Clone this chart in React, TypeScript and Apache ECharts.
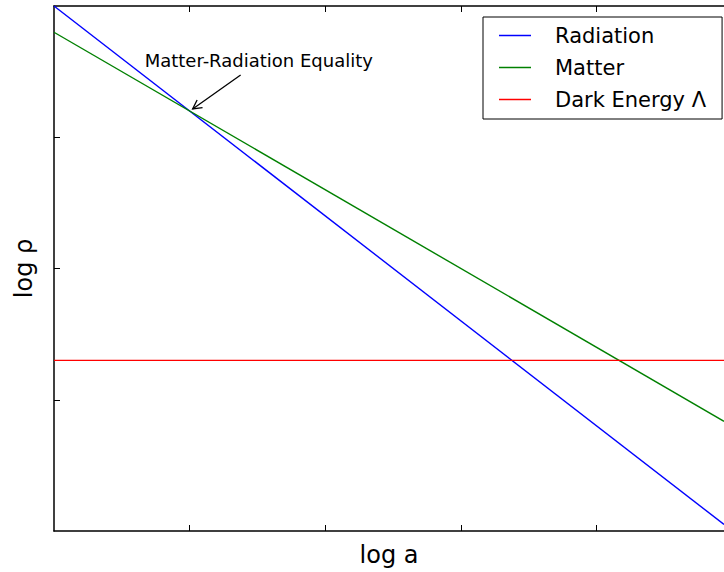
import React, { useEffect, useRef } from "react";
import * as echarts from "echarts";

// Data (log a on x, log rho on y)
const logA = [0, 4.94];
const radiation = [4.0, 0.05];
const matter = [3.8, 0.836];
const darkEnergy = [1.3, 1.3];
const seriesNames = ["Radiation", "Matter", "Dark Energy \u039b"];
const seriesColors = ["#0000ff", "#008000", "#ff0000"];
const xTicks = [1, 2, 3, 4];
const yTicks = [1, 2, 3];
const equality = [1, 3.2];
const equalityLabel = "Matter-Radiation Equality";

const FONT = '"DejaVu Sans", sans-serif';

export default function App() {
  const ref = useRef<HTMLDivElement>(null);
  useEffect(() => {
    if (!ref.current) return;
    const chart = echarts.init(ref.current, null, { renderer: "svg" });
    const toPairs = (ys: number[]) => logA.map((x, i) => [x, ys[i]]);
    const axisLine = { show: true, lineStyle: { color: "#000", width: 1.5 } };
    const xCommon = {
      type: "value" as const,
      min: 0,
      max: logA[1],
      axisLine,
      axisTick: { show: true, inside: true, length: 6, customValues: xTicks, lineStyle: { color: "#000", width: 1 } },
      axisLabel: { show: false },
      splitLine: { show: false },
    };
    chart.setOption({
      animation: false,
      backgroundColor: "#fff",
      grid: { left: 54, right: 0, top: 6, bottom: 40 },
      xAxis: [
        {
          ...xCommon,
          position: "bottom",
          name: "log a",
          nameLocation: "middle",
          nameGap: 12,
          nameTextStyle: { fontFamily: FONT, fontSize: 24, color: "#000", verticalAlign: "top" },
        },
        { ...xCommon, position: "top" },
      ],
      yAxis: [
        {
          type: "value",
          min: 0,
          max: 4,
          interval: 1,
          position: "left",
          axisLine,
          axisTick: { show: true, inside: true, length: 6, customValues: yTicks, lineStyle: { color: "#000", width: 1 } },
          axisLabel: { show: false },
          splitLine: { show: false },
          name: "log \u03c1",
          nameLocation: "middle",
          nameGap: 18,
          nameTextStyle: { fontFamily: FONT, fontSize: 24, color: "#000" },
        },
      ],
      legend: {
        orient: "vertical",
        left: 483,
        top: 17,
        selectedMode: false,
        backgroundColor: "#fff",
        borderColor: "#000",
        borderWidth: 1,
        borderRadius: 0,
        padding: [8, 16, 9, 16],
        itemWidth: 32,
        itemHeight: 1.5,
        itemGap: 11,
        icon: "rect",
        textStyle: { fontFamily: FONT, fontSize: 21, color: "#000", lineHeight: 20, padding: [0, 0, 0, 19] },
        data: seriesNames,
      },
      series: [radiation, matter, darkEnergy].map((ys, i) => ({
        type: "line",
        name: seriesNames[i],
        data: toPairs(ys),
        showSymbol: false,
        symbol: "none",
        xAxisIndex: 0,
        yAxisIndex: 0,
        lineStyle: { color: seriesColors[i], width: 1.4 },
        itemStyle: { color: seriesColors[i] },
      })),
    });

    const p = chart.convertToPixel({ xAxisIndex: 0, yAxisIndex: 0 }, equality) as number[];
    const tip = [p[0] + 3, p[1] - 2];
    const tail = [p[0] + 51, p[1] - 36];
    const dx = tip[0] - tail[0];
    const dy = tip[1] - tail[1];
    const len = Math.hypot(dx, dy);
    const ux = dx / len;
    const uy = dy / len;
    const headLen = 10;
    const ang = (28 * Math.PI) / 180;
    const rot = (a: number) => [
      tip[0] - headLen * (ux * Math.cos(a) - uy * Math.sin(a)),
      tip[1] - headLen * (ux * Math.sin(a) + uy * Math.cos(a)),
    ];
    chart.setOption({
      graphic: [
        {
          type: "text",
          left: p[0] - 45,
          top: p[1] - 60,
          style: { text: equalityLabel, font: `18px ${FONT}`, fill: "#000" },
          z: 100,
        },
        {
          type: "line",
          shape: { x1: tail[0], y1: tail[1], x2: tip[0], y2: tip[1] },
          style: { stroke: "#000", lineWidth: 1.3 },
          z: 100,
        },
        {
          type: "polyline",
          shape: { points: [rot(ang), tip, rot(-ang)] },
          style: { stroke: "#000", lineWidth: 1.3, fill: null },
          z: 100,
        },
      ],
    });
    return () => chart.dispose();
  }, []);
  return <div ref={ref} style={{ position: "absolute", left: 0, top: 0, width: 724, height: 572 }} />;
}
